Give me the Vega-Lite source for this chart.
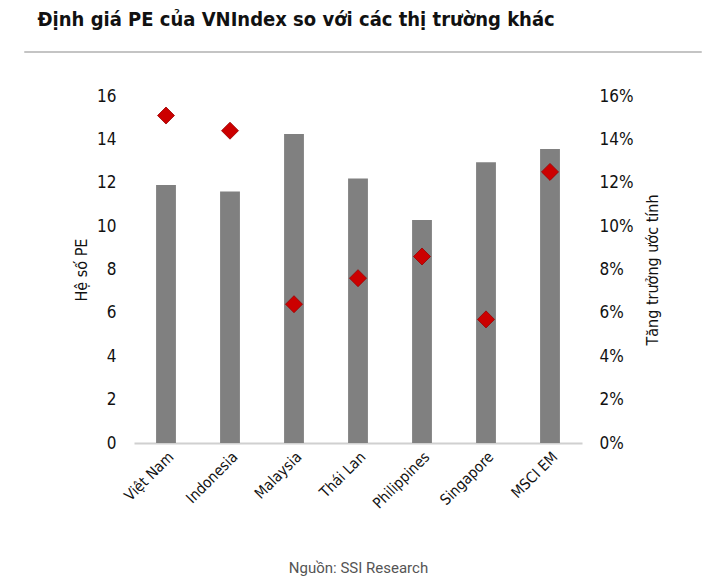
{
  "$schema": "https://vega.github.io/schema/vega-lite/v6.json",
  "background": "white",
  "padding": {"left": 23, "top": 9, "right": 23, "bottom": 4},
  "title": {
    "text": "Định giá PE của VNIndex so với các thị trường khác",
    "anchor": "start",
    "frame": "bounds",
    "font": "DejaVu Sans Condensed, Liberation Sans, sans-serif",
    "fontWeight": "bold",
    "fontSize": 20,
    "color": "#111111",
    "dx": 14,
    "offset": 21
  },
  "align": "none",
  "spacing": 34,
  "vconcat": [
    {
      "width": 677,
      "height": 1,
      "data": {"values": []},
      "mark": "point",
      "view": {"stroke": "#c4c4c4", "strokeWidth": 1, "fill": null}
    },
    {
      "spacing": 0,
      "hconcat": [
        {
          "width": 49,
          "height": 347,
          "data": {"values": []},
          "mark": "point",
          "view": {"stroke": null}
        },
        {
          "width": 448,
          "height": 347,
          "data": {
            "values": [
              {"market": "Việt Nam", "pe": 11.9, "growth": 0.151},
              {"market": "Indonesia", "pe": 11.6, "growth": 0.144},
              {"market": "Malaysia", "pe": 14.25, "growth": 0.064},
              {"market": "Thái Lan", "pe": 12.2, "growth": 0.076},
              {"market": "Philippines", "pe": 10.28, "growth": 0.086},
              {"market": "Singapore", "pe": 12.95, "growth": 0.057},
              {"market": "MSCI EM", "pe": 13.56, "growth": 0.125}
            ]
          },
          "view": {"stroke": null},
          "encoding": {
            "x": {
              "field": "market",
              "type": "nominal",
              "sort": null,
              "scale": {"paddingInner": 0, "paddingOuter": 0},
              "axis": {
                "title": "Nguồn: SSI Research",
                "titleFont": "Roboto",
                "titleFontWeight": "normal",
                "titleFontSize": 15,
                "titleColor": "#555555",
                "titlePadding": 49,
                "labelAngle": -45,
                "labelFont": "DejaVu Sans Condensed, Liberation Sans, sans-serif",
                "labelFontSize": 15,
                "labelColor": "#111111",
                "labelPadding": 6,
                "ticks": false,
                "domainColor": "#d0d0d0",
                "domainWidth": 2,
                "grid": false
              }
            }
          },
          "layer": [
            {
              "mark": {"type": "bar", "color": "#808080", "width": {"band": 0.31}},
              "encoding": {
                "y": {
                  "field": "pe",
                  "type": "quantitative",
                  "scale": {"domain": [0, 16], "nice": false},
                  "axis": {
                    "title": "Hệ số PE",
                    "titleFont": "DejaVu Sans Condensed, Liberation Sans, sans-serif",
                    "titleFontWeight": "normal",
                    "titleFontSize": 16,
                    "titleColor": "#111111",
                    "titlePadding": 7,
                    "values": [0, 2, 4, 6, 8, 10, 12, 14, 16],
                    "labelFont": "DejaVu Sans Condensed, Liberation Sans, sans-serif",
                    "labelFontSize": 17,
                    "labelColor": "#111111",
                    "labelPadding": 18,
                    "ticks": false,
                    "domain": false,
                    "grid": false
                  }
                }
              }
            },
            {
              "mark": {"type": "point", "shape": "diamond", "filled": true, "size": 290, "color": "#cc0000", "stroke": "#990000", "strokeWidth": 0.8, "opacity": 1},
              "encoding": {
                "y": {
                  "field": "growth",
                  "type": "quantitative",
                  "scale": {"domain": [0, 0.16], "nice": false},
                  "axis": {
                    "orient": "right",
                    "title": "Tăng trưởng ước tính",
                    "titleFont": "DejaVu Sans Condensed, Liberation Sans, sans-serif",
                    "titleFontWeight": "normal",
                    "titleFontSize": 16,
                    "titleColor": "#111111",
                    "titleAngle": -90,
                    "titleBaseline": "bottom",
                    "titlePadding": 28,
                    "values": [0, 0.02, 0.04, 0.06, 0.08, 0.1, 0.12, 0.14, 0.16],
                    "format": ".0%",
                    "labelFont": "DejaVu Sans Condensed, Liberation Sans, sans-serif",
                    "labelFontSize": 17,
                    "labelColor": "#111111",
                    "labelPadding": 17,
                    "ticks": false,
                    "domain": false,
                    "grid": false
                  }
                }
              }
            }
          ],
          "resolve": {"scale": {"y": "independent"}}
        }
      ]
    }
  ]
}
